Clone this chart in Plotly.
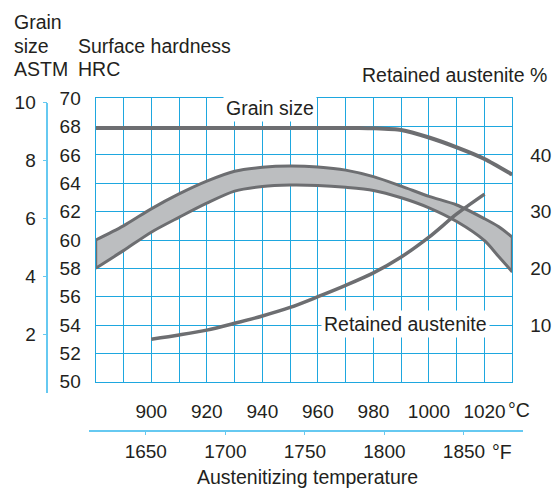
import plotly.graph_objects as go

# ---------------- data ----------------
band_temp_c = [880, 890, 900, 910, 920, 930, 940, 950, 960, 970, 980, 990, 1000, 1010, 1020, 1025, 1030]
hardness_upper = [60.0, 61.0, 62.2, 63.25, 64.15, 64.85, 65.13, 65.22, 65.15, 64.93, 64.47, 63.8, 63.08, 62.47, 61.5, 60.95, 60.2]
hardness_lower = [58.0, 59.25, 60.55, 61.6, 62.6, 63.45, 63.78, 63.88, 63.85, 63.72, 63.5, 62.98, 62.27, 61.3, 59.95, 58.85, 57.75]

grain_temp_c = [880, 920, 960, 975, 980, 990, 1000, 1010, 1020, 1030]
grain_size_astm = [9.13, 9.13, 9.13, 9.13, 9.12, 9.06, 8.8, 8.46, 8.06, 7.52]

ra_temp_c = [900, 910, 920, 930, 940, 950, 960, 970, 980, 990, 1000, 1010, 1020]
retained_austenite = [7.5, 8.25, 9.1, 10.3, 11.6, 13.1, 15.0, 17.0, 19.2, 22.0, 25.5, 29.6, 33.1]

c_ticks = [880, 890, 900, 910, 920, 930, 940, 950, 960, 970, 980, 990, 1000, 1010, 1020, 1030]
c_labels = ["", "", "900", "", "920", "", "940", "", "960", "", "980", "", "1000", "", "1020", ""]
f_ticks = [1650, 1700, 1750, 1800, 1850]
f_labels = ["1650", "1700", "1750", "1800", "1850"]
hrc_ticks = [50, 52, 54, 56, 58, 60, 62, 64, 66, 68, 70]
astm_ticks = [2, 4, 6, 8, 10]
ra_ticks = [10, 20, 30, 40]

# ---------------- styling ----------------
W, H = 560, 489          # browser window
OFF = 8                  # default page margin of the html body
FW, FH = W - OFF, H - OFF
FONT = "Liberation Sans, Arial, Helvetica, sans-serif"
TXT = "#231f20"
GRID = "#1ea7df"
AXLINE = "#66c9f1"
CURVE = "#6d6e71"
FILL = "#bcbec0"
FS = 19
FA = 19.5


def px(p):
    return (p - OFF) / FW


def py(p):
    return 1 - (p - OFF) / FH


fig = go.Figure()

# hardness band (lower then upper filled to lower)
fig.add_trace(go.Scatter(x=band_temp_c, y=hardness_lower, mode="lines",
                         line=dict(color=CURVE, width=3, shape="spline", smoothing=0.8),
                         xaxis="x", yaxis="y", hoverinfo="skip", showlegend=False))
fig.add_trace(go.Scatter(x=band_temp_c, y=hardness_upper, mode="lines", fill="tonexty", fillcolor=FILL,
                         line=dict(color=CURVE, width=3, shape="spline", smoothing=0.8),
                         xaxis="x", yaxis="y", hoverinfo="skip", showlegend=False))
# band end edges
fig.add_trace(go.Scatter(x=[band_temp_c[0], band_temp_c[0], None, band_temp_c[-1], band_temp_c[-1]],
                         y=[hardness_lower[0], hardness_upper[0], None, hardness_lower[-1], hardness_upper[-1]],
                         mode="lines", line=dict(color=CURVE, width=3),
                         xaxis="x", yaxis="y", hoverinfo="skip", showlegend=False))

# retained austenite (right axis)
fig.add_trace(go.Scatter(x=ra_temp_c, y=retained_austenite, mode="lines",
                         line=dict(color=CURVE, width=3.5, shape="spline", smoothing=0.8),
                         xaxis="x", yaxis="y2", hoverinfo="skip", showlegend=False))

# grain size (ASTM axis)
fig.add_trace(go.Scatter(x=grain_temp_c, y=grain_size_astm, mode="lines",
                         line=dict(color=CURVE, width=4, shape="spline", smoothing=0.6),
                         xaxis="x3", yaxis="y3", hoverinfo="skip", showlegend=False))

# invisible trace so that the Fahrenheit axis gets drawn
fig.add_trace(go.Scatter(x=[f_ticks[0]], y=[astm_ticks[0]], mode="markers",
                         marker=dict(opacity=0), xaxis="x2", yaxis="y3",
                         hoverinfo="skip", showlegend=False))

plot_x = [px(95.7), px(512.3)]
plot_y = [py(381.7), py(98.3)]

fig.update_layout(
    width=FW, height=FH,
    margin=dict(l=0, r=0, t=0, b=0, autoexpand=False),
    paper_bgcolor="white", plot_bgcolor="rgba(0,0,0,0)",
    font=dict(family=FONT, size=FS, color=TXT),
    showlegend=False,
    xaxis=dict(domain=plot_x, range=[880, 1030], anchor="y", automargin=False,
               tickmode="array", tickvals=c_ticks, ticktext=c_labels,
               showgrid=True, gridcolor=GRID, gridwidth=1.3,
               showline=True, mirror=True, linecolor=GRID, linewidth=1.3,
               zeroline=False, ticks="", ticklabelstandoff=12,
               tickfont=dict(size=FS, color=TXT)),
    yaxis=dict(domain=plot_y, range=[50, 70], anchor="x", automargin=False,
               tickmode="array", tickvals=hrc_ticks,
               showgrid=True, gridcolor=GRID, gridwidth=1.3,
               showline=True, mirror=True, linecolor=GRID, linewidth=1.3,
               zeroline=False, ticks="", ticklabelstandoff=10,
               tickfont=dict(size=FS, color=TXT)),
    yaxis2=dict(overlaying="y", side="right", range=[0, 50], anchor="x", automargin=False,
                tickmode="array", tickvals=ra_ticks,
                showgrid=False, showline=False, zeroline=False,
                ticks="", ticklabelstandoff=17,
                tickfont=dict(size=FS, color=TXT)),
    yaxis3=dict(domain=[py(392.7), py(102.7)], range=[0, 10], anchor="free", automargin=False,
                position=px(47.3), side="left",
                tickmode="array", tickvals=astm_ticks,
                showgrid=False, zeroline=False,
                showline=True, linecolor=AXLINE, linewidth=1.5,
                ticks="outside", ticklen=4, tickcolor=AXLINE, tickwidth=1.3,
                ticklabelstandoff=3,
                tickfont=dict(size=FS, color=TXT)),
    xaxis3=dict(domain=plot_x, range=[880, 1030], anchor="y3", visible=False, automargin=False),
    xaxis2=dict(domain=[px(89), px(522.7)], range=[1614.3, 1886.9], anchor="free", automargin=False,
                position=py(430.7), side="bottom",
                tickmode="array", tickvals=f_ticks, ticktext=f_labels,
                showgrid=False, zeroline=False,
                showline=True, linecolor=AXLINE, linewidth=1.5,
                ticks="outside", ticklen=4, tickcolor=AXLINE, tickwidth=1.3,
                ticklabelstandoff=0,
                tickfont=dict(size=FS, color=TXT)),
)


def note(text, x, y, xanchor="left", bg=None, pad=1, yanchor="middle"):
    fig.add_annotation(text=text, xref="paper", yref="paper", x=px(x), y=py(y),
                       xanchor=xanchor, yanchor=yanchor, showarrow=False,
                       font=dict(family=FONT, size=FA, color=TXT),
                       bgcolor=bg, borderpad=pad)


note("Grain", 12, 22)
note("size", 12, 46)
note("ASTM", 12, 69)
note("Surface hardness", 75.5, 46)
note("HRC", 75.5, 69)
note("Retained austenite %", 360, 75)
note("Grain size", 269.5, 108, xanchor="center", bg="white", pad=2)
note("Retained austenite", 405, 324, xanchor="center", bg="white", pad=2)
note("°C", 506, 410)
note("°F", 489.5, 451.5)
note("Austenitizing temperature", 307.5, 488.5, xanchor="center", yanchor="bottom", pad=0)

fig.write_html("out.html")
